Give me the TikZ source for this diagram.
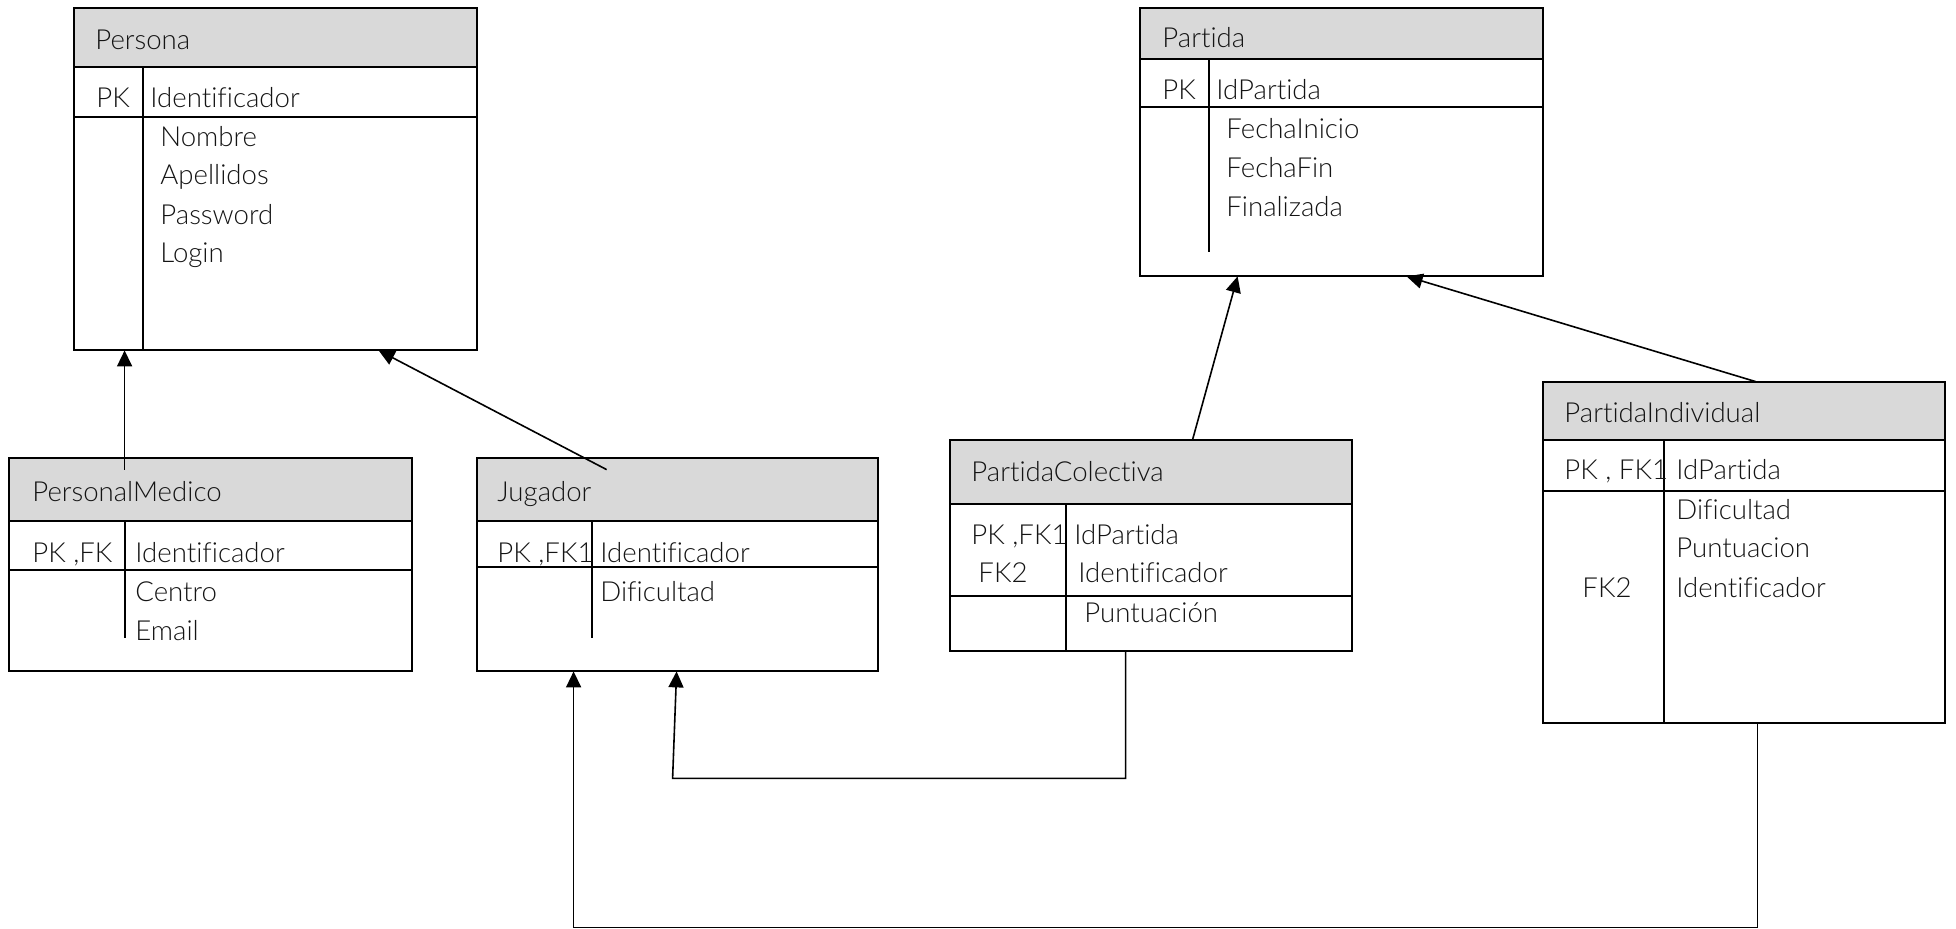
\documentclass[tikz,border=0pt]{standalone}
\usepackage{fontspec}
\setmainfont{Lato}[UprightFont={* Light},Ligatures=NoCommon]
\usetikzlibrary{arrows.meta,calc,fit}
\definecolor{hdr}{RGB}{217,217,217}
\definecolor{ink}{RGB}{20,20,20}

% table: name, x1, y1, x2, y2, header bottom, key row bottom, column x, column end
\newcommand{\entbox}[9]{%
  \fill[hdr] (#2,#3) rectangle (#4,#6);
  \draw[inner] (#2,#6) -- (#4,#6) (#2,#7) -- (#4,#7) (#8,#6) -- (#8,#9);
  \draw[border] (#2,#3) rectangle (#4,#5);
  \node[fit={(#2,#3)(#4,#5)}, inner sep=0pt] (#1) {};
}

\begin{document}
\begin{tikzpicture}[x=0.5pt,y=-0.5pt,
  border/.style={line width=1pt, draw=black},
  inner/.style={line width=0.9pt, draw=black},
  link/.style={line width=0.8pt, -{Triangle[length=8pt,width=7.5pt]}},
  txt/.style={anchor=base west, inner sep=0pt, text=ink, font=\fontsize{13.8pt}{16pt}\selectfont}]
\useasboundingbox (0,0) rectangle (1956,929);

% tables
\entbox{persona}{74}{8}{477}{350}{67}{117}{143}{350}
\entbox{partida}{1140}{8}{1543}{276}{59}{107}{1209}{252}
\entbox{pmed}{9}{458}{412}{671}{521}{570}{125}{638}
\entbox{jug}{477}{458}{878}{671}{521}{567}{592}{638}
\entbox{pcol}{950}{440}{1352}{651}{504}{596}{1066}{651}
\entbox{pind}{1543}{382}{1945}{723}{440}{491}{1664}{723}

% Persona
\node[txt] (t1) at (95,50) {Persona};
\node[txt] (t2) at (96,108) {PK};
\node[txt] (t3) at (150,108) {Identificador};
\node[txt] (t4) at (160,147) {Nombre};
\node[txt] (t5) at (160,185) {Apellidos};
\node[txt] (t6) at (160,225) {Password};
\node[txt] (t7) at (160,263) {Login};

% Partida
\node[txt] (u1) at (1162,48) {Partida};
\node[txt] (u2) at (1162,100) {PK};
\node[txt] (u3) at (1216,100) {IdPartida};
\node[txt] (u4) at (1226,139) {FechaInicio};
\node[txt] (u5) at (1226,178) {FechaFin};
\node[txt] (u6) at (1226,217) {Finalizada};

% PersonalMedico
\node[txt] (v1) at (32,502) {PersonalMedico};
\node[txt] (v2) at (32,563) {PK ,FK};
\node[txt] (v3) at (135,563) {Identificador};
\node[txt] (v4) at (135,602) {Centro};
\node[txt] (v5) at (135,641) {Email};

% Jugador
\node[txt] (w1) at (497,502) {Jugador};
\node[txt] (w2) at (497,563) {PK ,FK1};
\node[txt] (w3) at (600,563) {Identificador};
\node[txt] (w4) at (600,602) {Dificultad};

% PartidaColectiva
\node[txt] (x1) at (971,482) {PartidaColectiva};
\node[txt] (x2) at (971,545) {PK ,FK1};
\node[txt] (x3) at (978,583) {FK2};
\node[txt] (x4) at (1074,545) {IdPartida};
\node[txt] (x5) at (1078,583) {Identificador};
\node[txt] (x6) at (1084,623) {Puntuación};

% PartidaIndividual
\node[txt] (y1) at (1564,423) {PartidaIndividual};
\node[txt] (y2) at (1564,480) {PK , FK1};
\node[txt] (y3) at (1676,480) {IdPartida};
\node[txt] (y4) at (1676,520) {Dificultad};
\node[txt] (y5) at (1676,558) {Puntuacion};
\node[txt] (y6) at (1676,598) {Identificador};
\node[txt] (y7) at (1582,598) {FK2};

% connectors
\draw[link] ($(pmed.north west)+(116,12)$) coordinate (a1) -- (a1 |- persona.south);
\draw[link] ($(jug.north west)+(130,12)$) -- ($(persona.south west)+(305,0)$);
\draw[link] ($(pcol.north west)+(243,0)$) -- ($(partida.south west)+(98,0)$);
\draw[link] ($(pind.north west)+(213,0)$) -- ($(partida.south west)+(267,0)$);
\draw[link] ($(pcol.south west)+(176,0)$) -- ++(0,127) -- ($(jug.south west)+(196,107)$) -- ($(jug.south west)+(200,0)$);
\draw[link] ($(pind.south west)+(215,0)$) -- ++(0,204) -| ($(jug.south west)+(97,0)$);
\end{tikzpicture}
\end{document}
